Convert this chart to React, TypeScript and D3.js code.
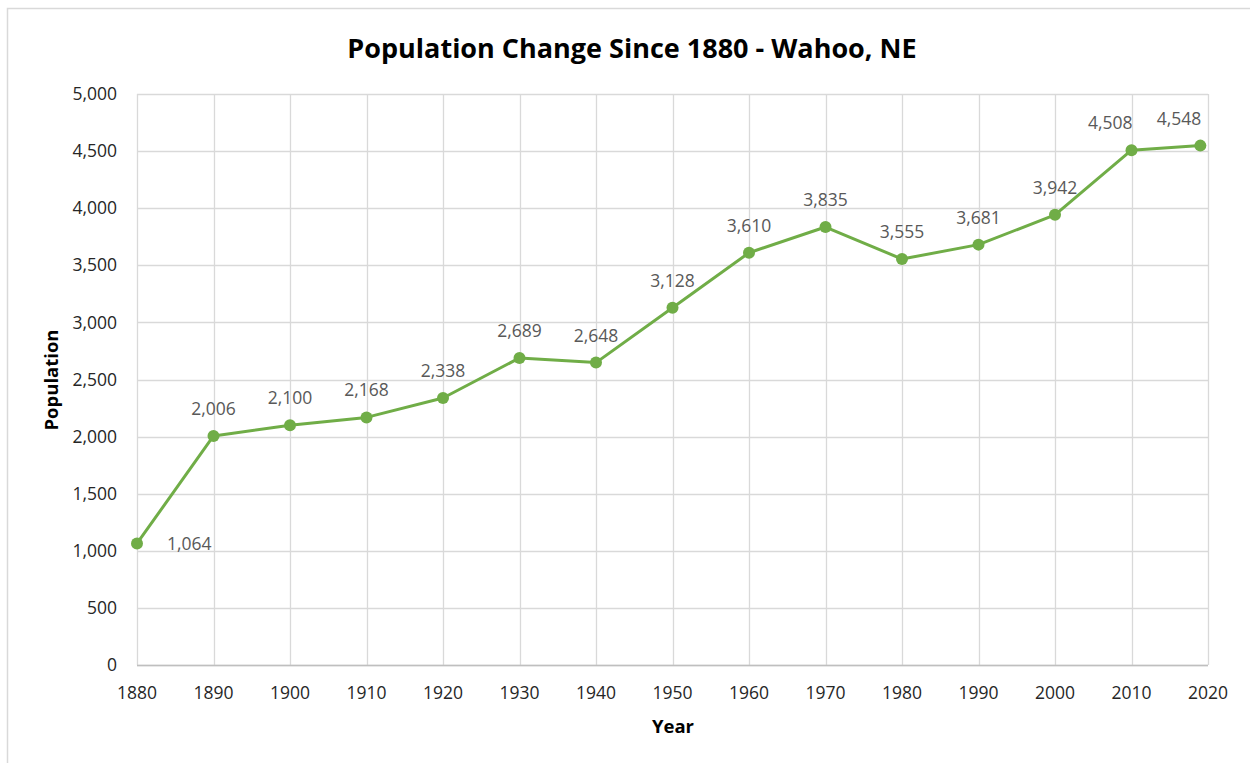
import React from 'react';
import * as d3 from 'd3';

// census years and population of Wahoo, NE
const years = [1880, 1890, 1900, 1910, 1920, 1930, 1940, 1950, 1960, 1970, 1980, 1990, 2000, 2010, 2019];
const population = [1064, 2006, 2100, 2168, 2338, 2689, 2648, 3128, 3610, 3835, 3555, 3681, 3942, 4508, 4548];
const xTicks = [1880, 1890, 1900, 1910, 1920, 1930, 1940, 1950, 1960, 1970, 1980, 1990, 2000, 2010, 2020];
const yTicks = [0, 500, 1000, 1500, 2000, 2500, 3000, 3500, 4000, 4500, 5000];

const W = 1250;
const H = 763;
const FONT = '"Open Sans", "Noto Sans", sans-serif';
const GREEN = '#70AD47';

export default function App() {
    const x = d3.scaleLinear().domain([1880, 2020]).range([137, 1208]);
    const y = d3.scaleLinear().domain([0, 5000]).range([665, 94]);
    const fmt = d3.format(',');

    const points = years.map((yr, i) => ({ yr, v: population[i] }));
    const line = d3.line<{ yr: number; v: number }>().x(d => x(d.yr)).y(d => y(d.v));

    return (
        <svg width={W} height={H} style={{ position: 'absolute', left: 0, top: 0, background: '#fff' }}>
            <rect x={7.5} y={8.5} width={W + 20} height={H + 20} fill="#fff" stroke="#d9d9d9" strokeWidth={1.5} />
            <text x={632} y={58} textAnchor="middle" fontFamily={FONT} fontWeight="bold" fontSize={27} fill="#000">
                Population Change Since 1880 - Wahoo, NE
            </text>

            {/* grid */}
            <g>
                {yTicks.map(t => (
                    <line key={'h' + t} x1={137} x2={1208} y1={Math.round(y(t)) + 0.5} y2={Math.round(y(t)) + 0.5}
                        stroke="#d9d9d9" strokeWidth={1.3} />
                ))}
                {xTicks.map(t => (
                    <line key={'v' + t} x1={Math.round(x(t)) + 0.5} x2={Math.round(x(t)) + 0.5} y1={94} y2={665}
                        stroke="#d9d9d9" strokeWidth={1.3} />
                ))}
                <line x1={137} x2={1208} y1={665.5} y2={665.5} stroke="#bfbfbf" strokeWidth={1.3} />
            </g>

            {/* tick labels */}
            <g fontFamily={FONT} fontSize={17.5} fill="#262626">
                {yTicks.map(t => (
                    <text key={t} x={117} y={y(t)} dy="0.35em" textAnchor="end">{fmt(t)}</text>
                ))}
                {xTicks.map(t => (
                    <text key={t} x={x(t)} y={699} textAnchor="middle">{t}</text>
                ))}
            </g>

            <text x={673} y={733} textAnchor="middle" fontFamily={FONT} fontWeight="bold" fontSize={18.5} fill="#000">Year</text>
            <text transform="translate(58,380) rotate(-90)" textAnchor="middle" fontFamily={FONT} fontWeight="bold" fontSize={18.5} fill="#000">
                Population
            </text>

            {/* series */}
            <path d={line(points) || ''} fill="none" stroke={GREEN} strokeWidth={3} strokeLinejoin="round" />
            {points.map(p => (
                <circle key={p.yr} cx={x(p.yr)} cy={y(p.v)} r={6} fill={GREEN} />
            ))}

            {/* data labels */}
            <g fontFamily={FONT} fontSize={17.5} fill="#595959">
                {points.map((p, i) => {
                    if (i === 0) {
                        return <text key={p.yr} x={x(p.yr) + 30} y={y(p.v)} dy="0.35em">{fmt(p.v)}</text>;
                    }
                    const nearEdge = i >= points.length - 2;
                    return (
                        <text key={p.yr} x={x(p.yr) + (nearEdge ? 1 : 0)} y={y(p.v) - 21}
                            textAnchor={nearEdge ? 'end' : 'middle'}>{fmt(p.v)}</text>
                    );
                })}
            </g>
        </svg>
    );
}
